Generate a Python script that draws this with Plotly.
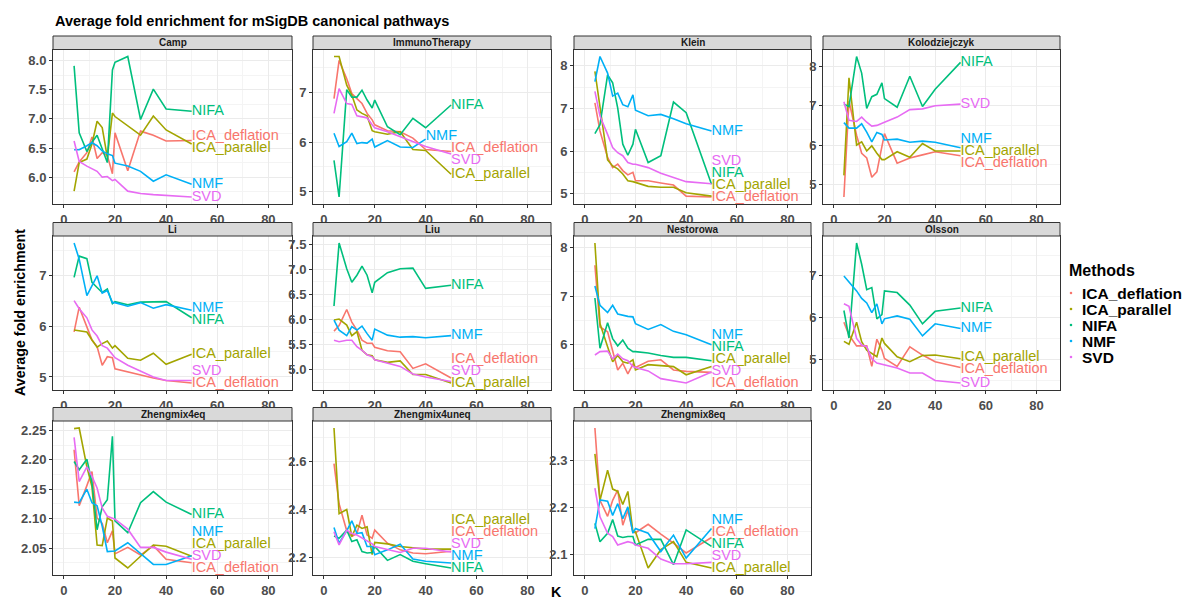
import plotly.graph_objects as go

# ---------------- data ----------------
K = [4, 6, 9, 11, 13, 15, 17, 19, 20, 25, 30, 35, 40, 50]
METHODS = ["ICA_deflation", "ICA_parallel", "NIFA", "NMF", "SVD"]
COLORS = ["#F8766D", "#A3A500", "#00BF7D", "#00B0F6", "#E76BF3"]
PANELS = ["Camp", "ImmunoTherapy", "Klein", "Kolodziejczyk", "Li", "Liu",
          "Nestorowa", "Olsson", "Zhengmix4eq", "Zhengmix4uneq", "Zhengmix8eq"]

camp = {
    "ICA_deflation": [6.09, 6.26, 6.42, 6.69, 6.32, 6.42, 6.37, 6.06, 6.76, 6.11, 6.79, 6.72, 6.62, 6.63],
    "ICA_parallel": [5.76, 6.25, 6.31, 6.57, 6.96, 6.85, 6.34, 7.10, 7.04, 6.88, 6.72, 7.05, 6.81, 6.57],
    "NIFA": [7.91, 6.76, 6.44, 6.60, 6.72, 6.48, 6.25, 7.84, 7.97, 8.07, 6.99, 7.51, 7.17, 7.13],
    "NMF": [6.47, 6.47, 6.54, 6.59, 6.54, 6.45, 6.40, 6.37, 6.24, 6.19, 6.10, 5.93, 6.04, 5.88],
    "SVD": [6.62, 6.27, 6.19, 6.14, 6.10, 6.00, 6.01, 5.94, 5.96, 5.76, 5.72, 5.70, 5.69, 5.66],
}
immunotherapy = {
    "ICA_deflation": [6.88, 7.65, 7.28, 6.98, 6.88, 6.78, 6.58, 6.45, 6.35, 6.23, 6.21, 6.08, 5.85, 5.81],
    "ICA_parallel": [7.73, 7.73, 7.15, 6.95, 6.65, 6.58, 6.53, 6.23, 6.21, 6.16, 6.21, 5.85, 5.83, 5.35],
    "NIFA": [5.63, 4.89, 7.06, 6.91, 6.91, 7.05, 6.85, 6.69, 6.85, 6.31, 6.15, 6.48, 6.29, 6.75],
    "NMF": [6.18, 5.91, 6.01, 6.18, 5.97, 5.99, 5.98, 6.06, 5.90, 6.03, 5.90, 5.89, 6.06, None],
    "SVD": [6.58, 7.08, 6.78, 6.76, 6.53, 6.51, 6.49, 6.35, 6.29, 6.21, 6.11, 6.01, 5.91, 5.76],
}
klein = {
    "ICA_deflation": [7.13, 6.47, 5.85, 5.61, 5.69, 5.54, 5.44, 5.50, 5.30, 5.30, 5.25, 5.20, 4.94, 4.92],
    "ICA_parallel": [7.87, 7.05, 5.79, 5.65, 5.58, 5.46, 5.30, 5.28, 5.26, 5.17, 5.15, 5.15, 5.02, 4.94],
    "NIFA": [6.41, 6.62, 7.79, 7.60, 7.01, 6.16, 5.90, 6.16, 6.51, 5.73, 5.89, 7.15, 6.90, 5.22],
    "NMF": [7.63, 8.22, 7.83, 7.29, 7.36, 7.09, 7.04, 7.32, 6.96, 6.83, 6.86, 6.76, 6.64, 6.47],
    "SVD": [7.40, 6.82, 6.39, 6.08, 5.96, 5.89, 5.73, 5.69, 5.69, 5.61, 5.48, 5.38, 5.28, 5.23],
}
kolodziejczyk = {
    "ICA_deflation": [4.68, 7.12, 6.25, 5.79, 5.67, 5.18, 5.32, 5.92, 6.29, 5.54, 5.67, 5.75, 5.83, 5.73],
    "ICA_parallel": [5.23, 7.71, 6.00, 6.08, 5.85, 5.98, 5.79, 5.63, 5.63, 5.83, 5.69, 6.04, 5.85, 5.85],
    "NIFA": [7.04, 6.98, 8.25, 7.83, 6.93, 7.23, 7.29, 7.58, 7.18, 6.96, 7.75, 6.98, 7.42, 8.10],
    "NMF": [6.57, 6.43, 6.43, 6.54, 6.33, 6.08, 6.32, 6.27, 6.13, 6.15, 6.07, 6.10, 6.07, 5.93],
    "SVD": [7.10, 6.63, 6.60, 6.71, 6.58, 6.48, 6.50, 6.56, 6.58, 6.71, 6.90, 6.92, 7.00, 7.04],
}
li = {
    "ICA_deflation": [5.89, 6.38, 5.99, 5.73, 5.60, 5.23, 5.40, 5.38, 5.16, 5.10, 5.03, 4.98, 4.93, 4.88],
    "ICA_parallel": [5.93, 5.91, 5.89, 5.73, 5.59, 5.66, 5.71, 5.57, 5.62, 5.37, 5.33, 5.47, 5.25, 5.45],
    "NIFA": [6.97, 7.39, 7.34, 6.87, 6.77, 6.67, 6.74, 6.45, 6.49, 6.43, 6.48, 6.48, 6.49, 6.17],
    "NMF": [7.65, 7.33, 6.61, 6.80, 7.00, 6.66, 6.71, 6.47, 6.47, 6.40, 6.47, 6.36, 6.43, 6.32],
    "SVD": [6.51, 6.35, 6.17, 5.93, 5.81, 5.62, 5.57, 5.44, 5.38, 5.23, 5.11, 5.00, 4.93, 4.93],
}
liu = {
    "ICA_deflation": [5.77, 5.88, 6.20, 5.95, 5.79, 5.59, 5.53, 5.53, 5.45, 5.38, 5.36, 5.03, 5.12, 4.84],
    "ICA_parallel": [5.99, 6.01, 5.89, 5.68, 5.76, 5.39, 5.30, 5.28, 5.20, 5.15, 5.18, 4.91, 4.91, 4.74],
    "NIFA": [6.27, 7.52, 7.01, 6.74, 6.88, 7.06, 6.88, 6.53, 6.74, 6.93, 7.01, 7.02, 6.62, 6.68],
    "NMF": [5.99, 5.79, 5.68, 5.86, 5.79, 5.87, 5.72, 5.59, 5.81, 5.69, 5.65, 5.66, 5.64, 5.68],
    "SVD": [5.59, 5.56, 5.59, 5.59, 5.46, 5.39, 5.30, 5.26, 5.20, 5.13, 5.07, 4.92, 4.86, 4.77],
}
nestorowa = {
    "ICA_deflation": [7.64, 6.36, 6.26, 5.85, 5.47, 5.61, 5.39, 5.59, 5.52, 5.65, 5.68, 5.47, 5.44, 5.42],
    "ICA_parallel": [8.10, 6.43, 5.95, 5.64, 5.77, 5.64, 5.61, 5.68, 5.47, 5.58, 5.56, 5.54, 5.37, 5.54],
    "NIFA": [6.96, 5.92, 6.45, 6.12, 5.97, 6.09, 5.92, 5.85, 5.85, 5.82, 5.77, 5.73, 5.73, 5.66],
    "NMF": [7.21, 6.81, 6.66, 6.81, 6.63, 6.60, 6.58, 6.57, 6.43, 6.31, 6.41, 6.27, 6.20, 5.99],
    "SVD": [5.78, 5.85, 5.86, 5.70, 5.80, 5.70, 5.66, 5.54, 5.52, 5.45, 5.29, 5.25, 5.20, 5.43],
}
olsson = {
    "ICA_deflation": [5.89, 5.58, 5.32, 5.32, 5.32, 4.83, 5.48, 5.22, 5.02, 4.83, 5.30, 5.10, 4.94, 4.80],
    "ICA_parallel": [5.43, 5.36, 5.89, 5.42, 5.22, 5.14, 5.06, 5.51, 5.38, 5.06, 4.94, 5.09, 5.10, 5.01],
    "NIFA": [6.17, 5.51, 7.79, 7.28, 6.67, 6.72, 5.97, 6.07, 6.64, 6.60, 6.30, 5.85, 6.15, 6.23],
    "NMF": [7.00, 6.86, 6.64, 6.46, 6.35, 6.12, 6.33, 5.85, 5.97, 6.04, 5.96, 5.56, 5.85, 5.74],
    "SVD": [6.33, 6.27, 5.50, 5.34, 5.30, 5.01, 4.91, 4.88, 4.88, 4.79, 4.67, 4.67, 4.49, 4.43],
}
zhengmix4eq = {
    "ICA_deflation": [2.217, 2.122, 2.156, 2.180, 2.101, 2.092, 2.059, 2.079, 2.040, 2.051, 2.038, 2.054, 2.031, 2.025],
    "ICA_parallel": [2.253, 2.254, 2.188, 2.154, 2.055, 2.054, 2.101, 2.096, 2.033, 2.016, 2.036, 2.055, 2.053, 2.036],
    "NIFA": [2.197, 2.183, 2.201, 2.161, 2.081, 2.120, 2.132, 2.240, 2.096, 2.076, 2.127, 2.146, 2.128, 2.107],
    "NMF": [2.128, 2.127, 2.150, 2.127, 2.122, 2.087, 2.044, 2.045, 2.045, 2.059, 2.040, 2.022, 2.022, 2.037],
    "SVD": [2.238, 2.163, 2.188, 2.172, 2.152, 2.118, 2.104, 2.101, 2.099, 2.082, 2.051, 2.051, 2.043, 2.031],
}
zhengmix4uneq = {
    "ICA_deflation": [2.592, 2.423, 2.310, 2.286, 2.299, 2.375, 2.292, 2.279, 2.313, 2.258, 2.230, 2.217, 2.214, 2.224],
    "ICA_parallel": [2.741, 2.382, 2.399, 2.286, 2.334, 2.320, 2.327, 2.210, 2.261, 2.255, 2.244, 2.237, 2.233, 2.233],
    "NIFA": [2.288, 2.279, 2.313, 2.265, 2.272, 2.223, 2.217, 2.219, 2.244, 2.186, 2.210, 2.182, 2.172, 2.154],
    "NMF": [2.324, 2.258, 2.310, 2.352, 2.299, 2.302, 2.244, 2.244, 2.210, 2.230, 2.254, 2.192, 2.182, 2.175],
    "SVD": [2.306, 2.251, 2.313, 2.299, 2.292, 2.279, 2.265, 2.255, 2.244, 2.230, 2.219, 2.237, 2.237, 2.221],
}
zhengmix8eq = {
    "ICA_deflation": [2.370, 2.216, 2.182, 2.216, 2.238, 2.163, 2.195, 2.149, 2.147, 2.165, 2.144, 2.125, 2.104, 2.137],
    "ICA_parallel": [2.315, 2.216, 2.280, 2.240, 2.235, 2.207, 2.235, 2.149, 2.149, 2.072, 2.111, 2.128, 2.084, 2.072],
    "NIFA": [2.167, 2.128, 2.146, 2.175, 2.140, 2.137, 2.139, 2.139, 2.121, 2.133, 2.133, 2.079, 2.153, 2.118],
    "NMF": [2.156, 2.217, 2.214, 2.184, 2.209, 2.177, 2.202, 2.146, 2.156, 2.146, 2.107, 2.142, 2.093, 2.156],
    "SVD": [2.242, 2.181, 2.146, 2.139, 2.121, 2.125, 2.128, 2.125, 2.121, 2.114, 2.091, 2.081, 2.081, 2.084],
}
DATA = [camp, immunotherapy, klein, kolodziejczyk, li, liu, nestorowa, olsson,
        zhengmix4eq, zhengmix4uneq, zhengmix8eq]

# y-axis tick style per panel (major step, label format)
YTICK = [(0.5, ".1f"), (1, ".0f"), (1, ".0f"), (1, ".0f"), (1, ".0f"), (0.5, ".1f"),
         (1, ".0f"), (1, ".0f"), (0.05, ".2f"), (0.2, ".1f"), (0.1, ".1f")]

# ---------------- layout geometry (pixels) ----------------
W, H = 1186, 601
COLS = [(53, 292), (313, 551), (574, 811), (823, 1060)]
ROWS = [(49.5, 204), (236, 390), (421, 575)]   # plot area top, bottom
STRIP_H = 13.5
FONT = "Liberation Sans, Arial, Helvetica, sans-serif"
XRANGE = [0 - 0.05 * 85, 85 + 0.05 * 85]


def px2x(p):
    return p / W


def px2y(p):
    return 1 - p / H


def repel(vals, height, sep=12.0, half=6.2):
    """Simple vertical label repulsion in pixel space."""
    order = sorted(range(len(vals)), key=lambda i: vals[i])
    p = [vals[i] for i in order]
    lo, hi = half, height - half
    for _ in range(600):
        for j in range(1, len(p)):
            gap = p[j] - p[j - 1]
            if gap < sep:
                d = (sep - gap) / 2
                p[j] += d
                p[j - 1] -= d
        p = [min(max(v, lo), hi) for v in p]
    out = [0] * len(vals)
    for j, i in enumerate(order):
        out[i] = p[j]
    return out


fig = go.Figure()
shapes = []
annotations = []
layout_axes = {}

for idx, (name, panel) in enumerate(zip(PANELS, DATA)):
    r, c = divmod(idx, 4)
    x0, x1 = COLS[c]
    top, bot = ROWS[r]
    ax = "" if idx == 0 else str(idx + 1)
    xa, ya = "x" + ax, "y" + ax

    allv = [v for m in METHODS for v in panel[m] if v is not None]
    lo, hi = min(allv), max(allv)
    rng = hi - lo
    yr = [lo - 0.05 * rng, hi + 0.05 * rng]
    ph = bot - top

    # lines
    for m, col in zip(METHODS, COLORS):
        fig.add_trace(go.Scatter(
            x=K, y=panel[m], mode="lines", name=m, showlegend=False,
            line=dict(color=col, width=1.6), xaxis=xa, yaxis=ya,
            connectgaps=False, hoverinfo="x+y+name"))

    # end labels (repelled vertically)
    lastx, lasty = [], []
    for m in METHODS:
        pts = [(k, v) for k, v in zip(K, panel[m]) if v is not None]
        lastx.append(pts[-1][0])
        lasty.append(pts[-1][1])
    pix = [(v - yr[0]) / (yr[1] - yr[0]) * ph for v in lasty]
    newpix = repel(pix, ph)
    laby = [yr[0] + p / ph * (yr[1] - yr[0]) for p in newpix]
    for m, col, lx, ly in zip(METHODS, COLORS, lastx, laby):
        fig.add_trace(go.Scatter(
            x=[lx], y=[ly], mode="text", text=[m], textposition="middle right",
            textfont=dict(color=col, size=14.5, family=FONT), showlegend=False,
            cliponaxis=False, xaxis=xa, yaxis=ya, hoverinfo="skip"))

    dt, fmt = YTICK[idx]
    common = dict(showline=True, mirror=True, linecolor="#333333", linewidth=1,
                  ticks="outside", ticklen=3, tickcolor="#333333", tickwidth=1,
                  showgrid=True, gridcolor="#EBEBEB", gridwidth=1, zeroline=False,
                  tickfont=dict(family=FONT, size=13, color="#4D4D4D", weight="bold"))
    layout_axes["xaxis" + ax] = dict(
        common, domain=[px2x(x0), px2x(x1)], anchor=ya, range=XRANGE,
        tick0=0, dtick=20,
        minor=dict(dtick=10, tick0=0, showgrid=True, gridcolor="#F4F4F4", gridwidth=1, ticklen=0))
    layout_axes["yaxis" + ax] = dict(
        common, domain=[px2y(bot), px2y(top)], anchor=xa, range=yr,
        tick0=0, dtick=dt, tickformat=fmt,
        minor=dict(dtick=dt / 2, tick0=0, showgrid=True, gridcolor="#F4F4F4", gridwidth=1, ticklen=0))

    # strip
    shapes.append(dict(type="rect", xref="paper", yref="paper",
                       x0=px2x(x0), x1=px2x(x1), y0=px2y(top), y1=px2y(top - STRIP_H),
                       fillcolor="#D9D9D9", line=dict(color="#333333", width=1), layer="above"))
    annotations.append(dict(text="<b>%s</b>" % name, xref="paper", yref="paper",
                            x=px2x((x0 + x1) / 2), y=px2y(top - STRIP_H / 2),
                            showarrow=False, xanchor="center", yanchor="middle",
                            font=dict(family=FONT, size=10, color="#1A1A1A")))

# title and axis titles
annotations.append(dict(text="<b>Average fold enrichment for mSigDB canonical pathways</b>",
                        xref="paper", yref="paper", x=px2x(53), y=px2y(21),
                        xanchor="left", yanchor="middle", showarrow=False,
                        font=dict(family=FONT, size=14.5, color="black")))
annotations.append(dict(text="<b>Average fold enrichment</b>", xref="paper", yref="paper",
                        x=px2x(20), y=px2y(313), textangle=-90, showarrow=False,
                        xanchor="center", yanchor="middle",
                        font=dict(family=FONT, size=14.3, color="black")))
annotations.append(dict(text="<b>K</b>", xref="paper", yref="paper",
                        x=px2x(556.5), y=px2y(592), showarrow=False,
                        xanchor="center", yanchor="middle",
                        font=dict(family=FONT, size=14.3, color="black")))

# legend (drawn as annotations + small dots)
annotations.append(dict(text="<b>Methods</b>", xref="paper", yref="paper",
                        x=px2x(1067), y=px2y(270), xanchor="left", yanchor="middle",
                        showarrow=False, font=dict(family=FONT, size=16, color="black")))
for i, (m, col) in enumerate(zip(METHODS, COLORS)):
    yy = 293 + 16 * i
    annotations.append(dict(text="<b>%s</b>" % m, xref="paper", yref="paper",
                            x=px2x(1080), y=px2y(yy), xanchor="left", yanchor="middle",
                            showarrow=False, font=dict(family=FONT, size=15.5, color="black")))
    shapes.append(dict(type="circle", xref="paper", yref="paper",
                       xsizemode="pixel", ysizemode="pixel",
                       xanchor=px2x(1071), yanchor=px2y(yy),
                       x0=-1.3, x1=1.3, y0=-1.3, y1=1.3,
                       fillcolor=col, line=dict(width=0)))

fig.update_layout(
    width=W, height=H, autosize=False,
    margin=dict(l=0, r=0, t=0, b=0),
    paper_bgcolor="white", plot_bgcolor="white",
    showlegend=False, shapes=shapes, annotations=annotations,
    **layout_axes)

fig.write_html("out.html",
               config={"displayModeBar": False},
               post_script="document.body.style.margin='0px';"
                           "document.body.style.overflow='hidden';")
